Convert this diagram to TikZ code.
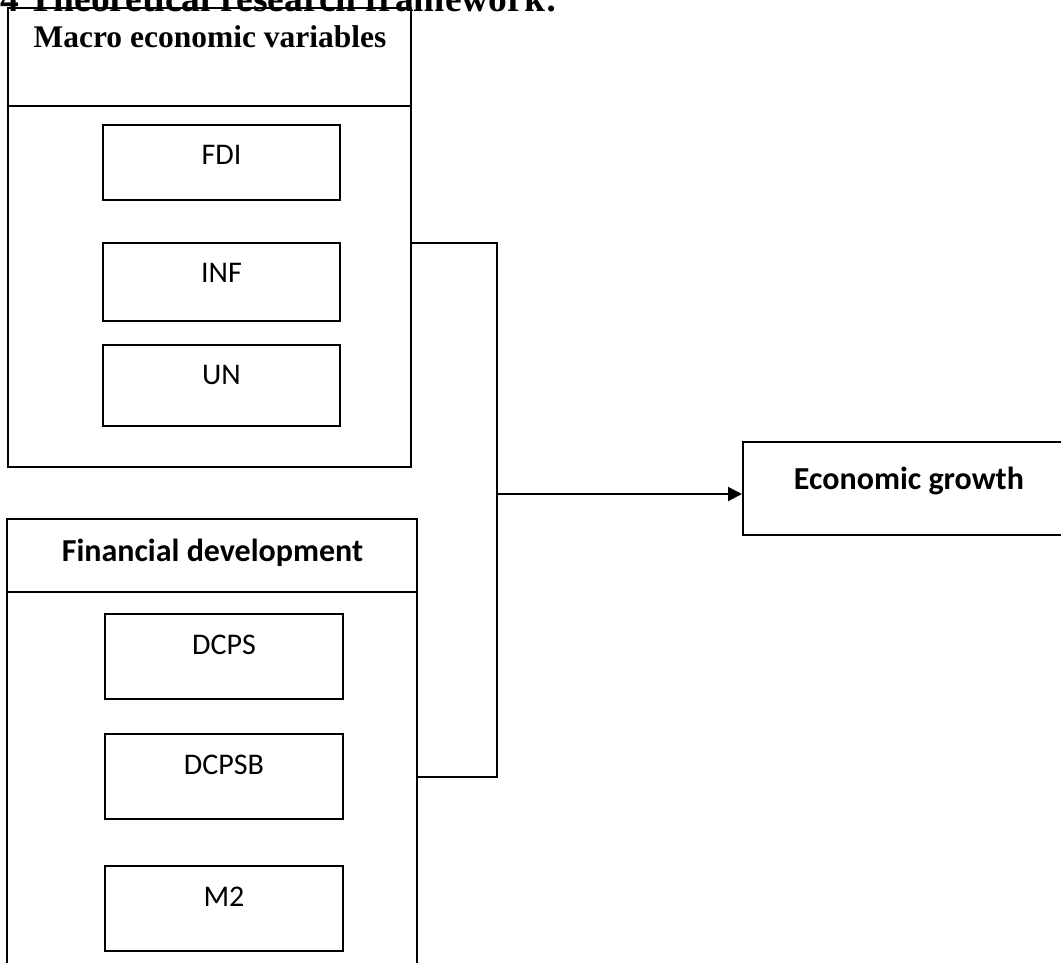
\documentclass[tikz,border=0pt]{standalone}
\usepackage{fontspec}
\setmainfont{Liberation Serif}
\newfontfamily\calibri{Carlito}
\usetikzlibrary{positioning,arrows.meta}

\begin{document}
\begin{tikzpicture}[
  x=0.4pt, y=-0.4pt,
  frame/.style={draw=black, line width=0.8pt, rectangle, inner sep=0pt},
  itembox/.style={frame, minimum width=94.8pt, minimum height=31pt},
  itemtext/.style={font=\calibri\fontsize{12}{14}\selectfont, inner sep=0pt},
  headtimes/.style={font=\bfseries\fontsize{12.6}{15}\selectfont, inner sep=0pt},
  headsans/.style={font=\calibri\bfseries\fontsize{12.8}{15}\selectfont, inner sep=0pt}
]
\useasboundingbox (0,0) rectangle (1061,962);
\clip (0,0) rectangle (1061,962);

% title line, cut at the top
\node (title) [anchor=base east, font=\bfseries\fontsize{15}{17}\selectfont, inner sep=0pt] at (558,11) {3.4 Theoretical research framework:};

% macro economic variables
\node (macro) [frame, minimum width=161.2pt, minimum height=183.6pt] at (209.5,237.5) {};
\draw [line width=0.8pt] (macro.west |- 0,106) -- (macro.east |- 0,106);
\node (macroT) [headtimes] at (210,37) {Macro economic variables};

\node (fdi) [itembox, minimum height=30pt] at (221.5,162.5) {};
\node (fdiT) [itemtext] at (221.5,155) {FDI};
\node (inf) [itembox, minimum height=31.2pt] at (221.5,282) {};
\node (infT) [itemtext] at (221.5,273) {INF};
\node (un) [itembox, minimum height=32.4pt] at (221.5,385.5) {};
\node (unT) [itemtext] at (221.5,375) {UN};

% financial development
\node (finance) [frame, minimum width=164pt, minimum height=192.4pt] at (212,759.5) {};
\draw [line width=0.8pt] (finance.west |- 0,592) -- (finance.east |- 0,592);
\node (financeT) [headsans] at (212.5,553) {Financial development};

\node (dcps) [itembox, minimum height=34pt] at (224,656.5) {};
\node (dcpsT) [itemtext] at (224,645) {DCPS};
\node (dcpsb) [itembox, minimum height=34pt] at (224,776.5) {};
\node (dcpsbT) [itemtext] at (224,765) {DCPSB};
\node (m2) [itembox, minimum height=34pt] at (224,908.5) {};
\node (m2T) [itemtext] at (224,897) {M2};

% economic growth
\node (growth) [frame, minimum width=132.8pt, minimum height=37.2pt] at (909,488.5) {};
\node (growthT) [headsans] at (909,481) {Economic growth};

% connectors
\coordinate (jtop) at (497,243);
\coordinate (jmid) at (497,494);
\coordinate (jbot) at (497,777);
\draw [line width=0.8pt] (macro.east |- jtop) -- (jtop) -- (jbot) -- (finance.east |- jbot);
\draw [line width=0.8pt, -{Triangle[length=5.6pt, width=5.6pt]}] (jmid) -- (growth.west |- jmid);

\end{tikzpicture}
\end{document}
